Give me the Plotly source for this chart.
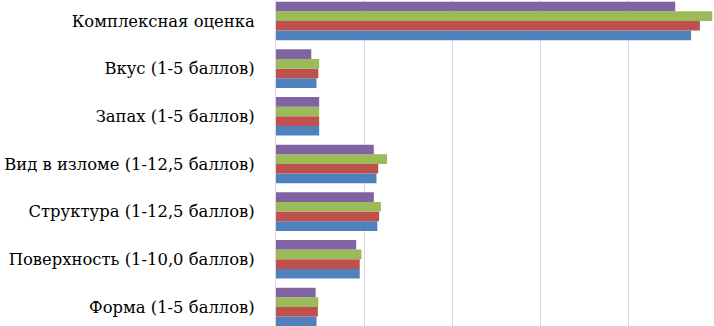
import plotly.graph_objects as go

categories = ["Форма (1-5 баллов)", "Поверхность (1-10,0 баллов)", "Структура (1-12,5 баллов)",
              "Вид в изломе (1-12,5 баллов)", "Запах (1-5 баллов)", "Вкус (1-5 баллов)",
              "Комплексная оценка"]
series_names = ["Образец 1", "Образец 2", "Образец 3", "Образец 4"]
s1 = [4.6, 9.5, 11.5, 11.4, 4.9, 4.6, 47.1]
s2 = [4.75, 9.5, 11.7, 11.6, 4.9, 4.8, 48.1]
s3 = [4.8, 9.7, 11.9, 12.6, 4.9, 4.9, 49.5]
s4 = [4.5, 9.1, 11.1, 11.1, 4.9, 4.0, 45.3]
colors = ["#4F81BD", "#C0504D", "#9BBB59", "#8064A2"]

serif = "DejaVu Serif, serif"

fig = go.Figure()
for name, vals, c in zip(series_names, [s1, s2, s3, s4], colors):
    fig.add_trace(go.Bar(y=categories, x=vals, name=name, orientation="h",
                         marker=dict(color=c, line=dict(width=0))))

fig.update_layout(
    width=714, height=326,
    margin=dict(l=276, r=0, t=0, b=0),
    barmode="group", bargap=0.19, bargroupgap=0,
    showlegend=False,
    plot_bgcolor="white", paper_bgcolor="white",
    font=dict(family=serif, size=16.4, color="black"),
    xaxis=dict(range=[0, 49.7], dtick=10, showticklabels=False, showgrid=True,
               gridcolor="#D9D9E3", gridwidth=1, zeroline=False, showline=False),
    yaxis=dict(range=[-0.40, 6.44], showline=True, linecolor="#D9D9E3", linewidth=1,
               ticks="", ticklabelstandoff=17, showgrid=False, automargin=False,
               tickfont=dict(family=serif, size=16.4, color="black")),
)
html = fig.to_html(include_plotlyjs=True, full_html=True, config={"displayModeBar": False})
html = html.replace("<head>", "<head><style>html,body{margin:0;padding:0;overflow:hidden;}</style>", 1)
with open("out.html", "w", encoding="utf-8") as f:
    f.write(html)
